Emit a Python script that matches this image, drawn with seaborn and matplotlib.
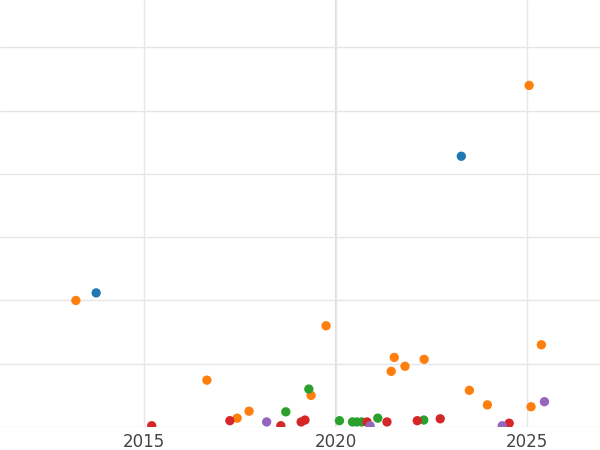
import pandas as pd
import matplotlib
matplotlib.use("Agg")
import matplotlib.pyplot as plt
import seaborn as sns

orange_x = [2013.22, 2016.64, 2017.43, 2017.74, 2019.36, 2019.75, 2021.45, 2021.53, 2021.81,
            2022.31, 2023.49, 2023.96, 2025.05, 2025.1, 2025.37]
orange_y = [2.0, 0.74, 0.14, 0.25, 0.5, 1.6, 0.88, 1.1, 0.96, 1.07, 0.58, 0.35, 5.4, 0.32, 1.3]
blue_x = [2013.75, 2023.28]
blue_y = [2.12, 4.28]
red_x = [2015.2, 2017.24, 2018.57, 2019.1, 2019.2, 2020.82, 2021.34, 2022.13, 2022.73, 2024.53]
red_y = [0.02, 0.1, 0.02, 0.08, 0.11, 0.08, 0.08, 0.1, 0.13, 0.06]
green_x = [2018.7, 2019.3, 2020.1, 2020.44, 2020.55, 2020.68, 2021.1, 2022.3]
green_y = [0.24, 0.6, 0.1, 0.08, 0.08, 0.08, 0.14, 0.11]
purple_x = [2018.2, 2020.9, 2024.35, 2025.45]
purple_y = [0.08, 0.02, 0.02, 0.4]

groups = [("a", blue_x, blue_y), ("b", orange_x, orange_y), ("c", green_x, green_y),
          ("d", red_x, red_y), ("e", purple_x, purple_y)]
df = pd.concat([pd.DataFrame({"year": x, "value": y, "group": g}) for g, x, y in groups])

sns.set_style("white")
fig = plt.figure(figsize=(6, 4.5), dpi=100)
ax = fig.add_axes([0, 23 / 450, 1, 427 / 450])
ax.set_axisbelow(True)
ax.grid(True, color="#e6e6e6", linewidth=1)
sns.scatterplot(data=df, x="year", y="value", hue="group", palette="tab10",
                s=45, edgecolor="none", legend=False, ax=ax)
ax.axvline(2020, color="#dddddd", linewidth=1.5, zorder=0)
ax.set_xlim(2011.24, 2026.9)
ax.set_ylim(0, 6.75)
ax.set_xticks([2015, 2020, 2025])
ax.set_yticks(range(0, 7))
ax.set_yticklabels([])
ax.tick_params(axis="x", labelsize=12, colors="#444444", length=0, pad=4)
ax.tick_params(axis="y", length=0)
ax.set_xlabel("")
ax.set_ylabel("")
for s in ax.spines.values():
    s.set_visible(False)
fig.savefig("out.png", dpi=100)
